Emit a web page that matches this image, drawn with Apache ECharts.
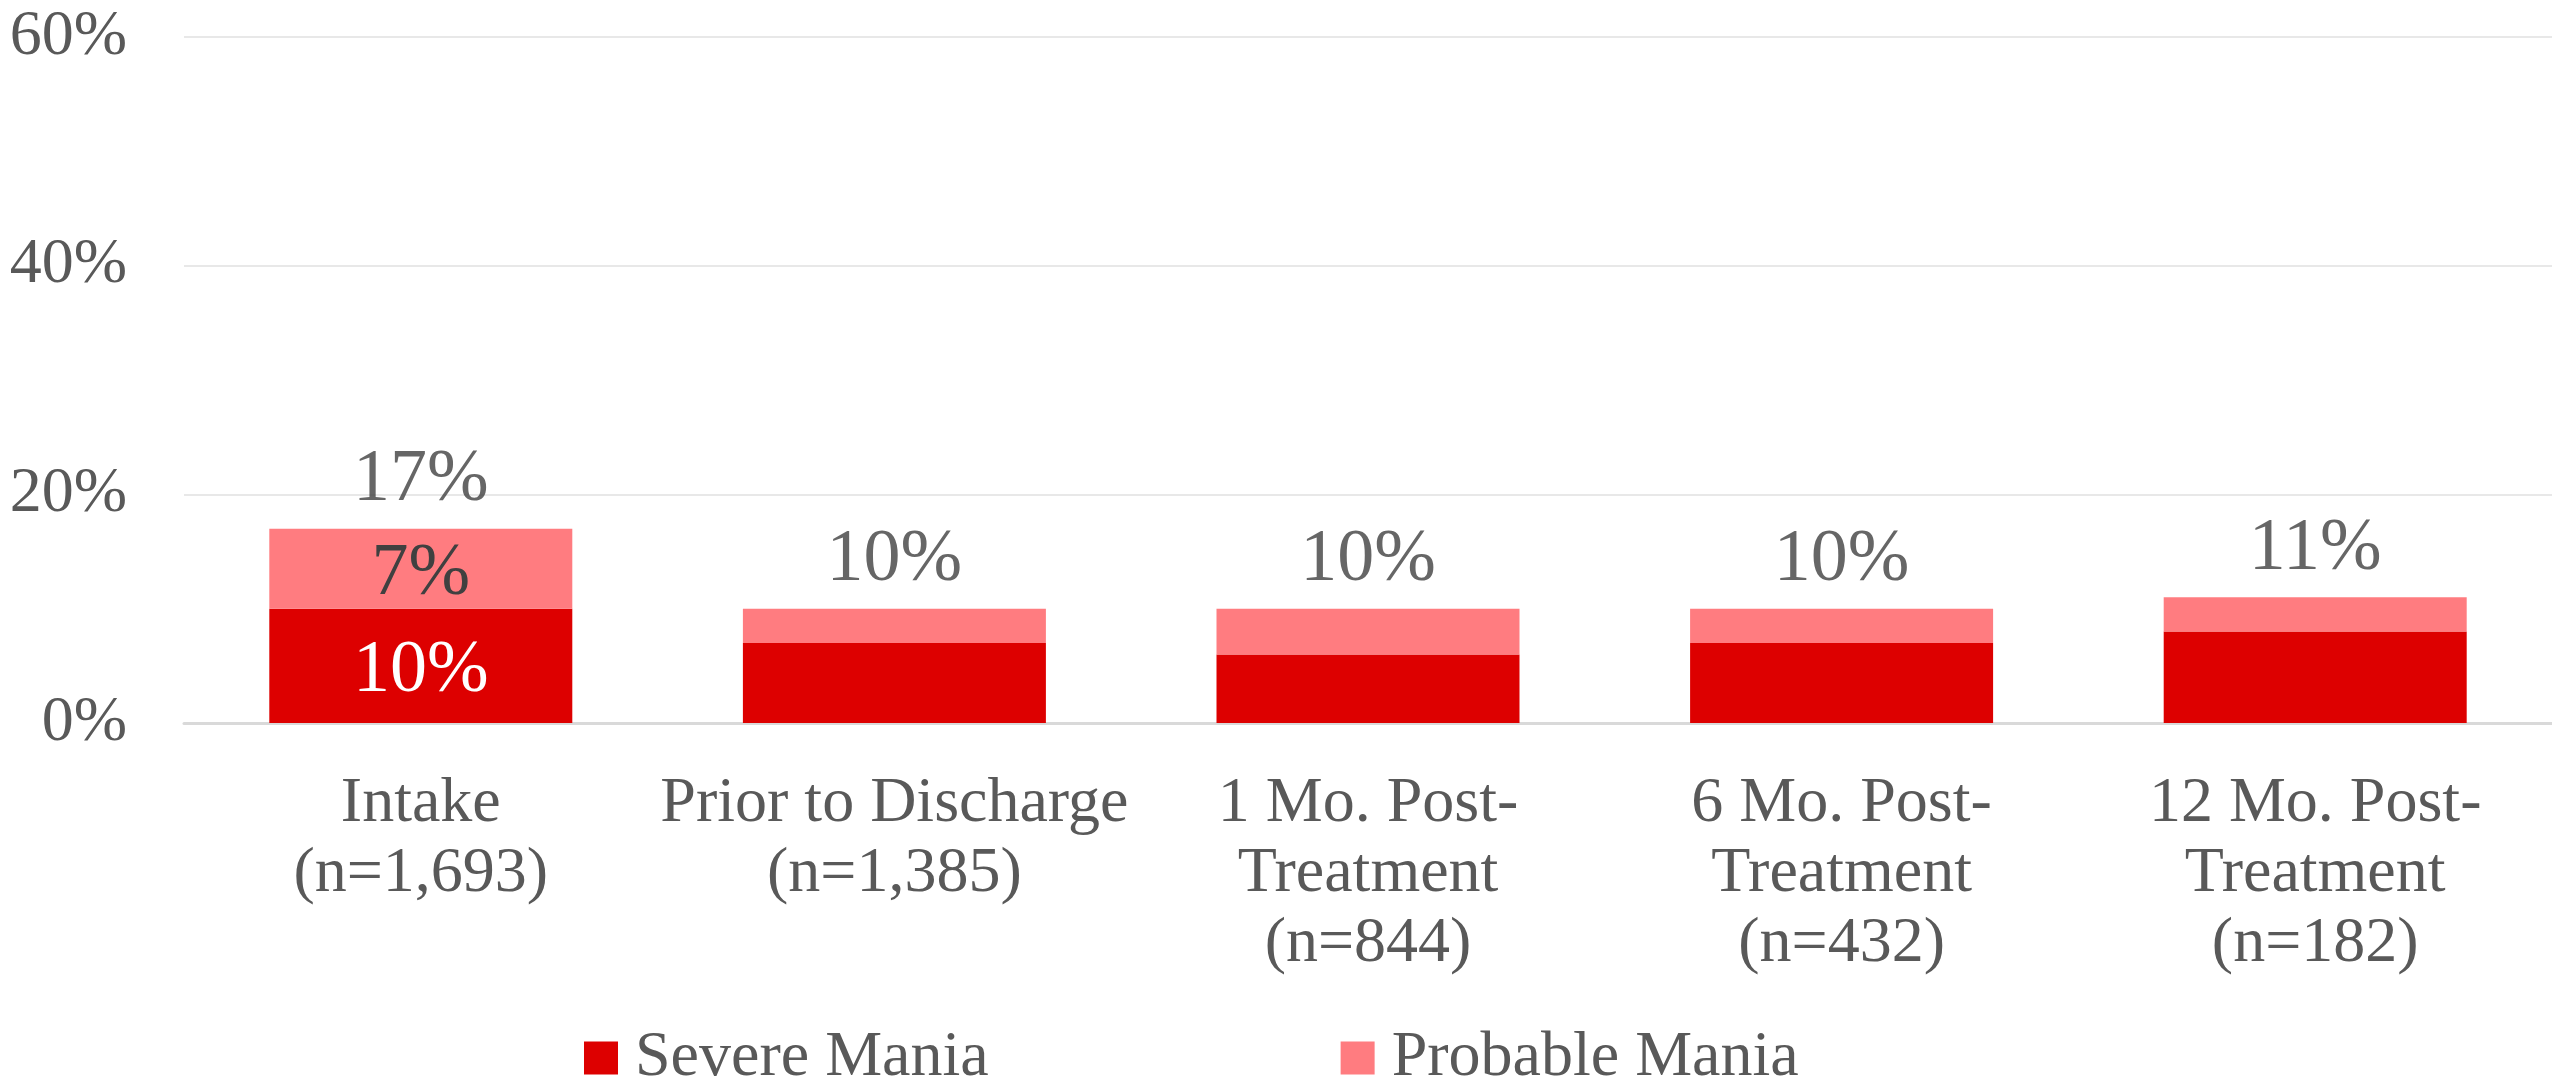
<!DOCTYPE html>
<html>
<head>
<meta charset="utf-8">
<script src="https://cdn.jsdelivr.net/npm/echarts@6/dist/echarts.min.js"></script>
<style>
  html, body { margin: 0; padding: 0; background: #fff; }
  #chart { width: 2552px; height: 1076px; }
</style>
</head>
<body>
<div id="chart"></div>
<script>
// values
var categories = [
    'Intake\n(n=1,693)',
    'Prior to Discharge\n(n=1,385)',
    '1 Mo. Post-\nTreatment\n(n=844)',
    '6 Mo. Post-\nTreatment\n(n=432)',
    '12 Mo. Post-\nTreatment\n(n=182)'
];
var severe = [10, 7, 6, 7, 8];
var probable = [7, 3, 4, 3, 3];
var totals = [17, 10, 10, 10, 11];
var yTicks = [0, 20, 40, 60];

var font = '"Liberation Serif", "DejaVu Serif", serif';

var chart = echarts.init(document.getElementById('chart'));

chart.setOption({
    animation: false,
    backgroundColor: '#fff',
    grid: { left: 184, right: -8, top: 37, bottom: 353 },
    legend: {
        left: 579,
        top: 1021,
        itemWidth: 34,
        itemHeight: 33,
        itemGap: 352,
        icon: 'rect',
        data: ['Severe Mania', 'Probable Mania'],
        textStyle: { fontFamily: font, fontSize: 64, color: '#595959', lineHeight: 64, padding: [0, 0, 0, 12] }
    },
    xAxis: {
        type: 'category',
        data: categories,
        axisTick: { show: false },
        axisLine: { lineStyle: { color: '#d9d9d9', width: 3 } },
        axisLabel: {
            interval: 0,
            margin: 46,
            fontFamily: font,
            fontSize: 64,
            lineHeight: 70,
            color: '#595959'
        }
    },
    yAxis: {
        type: 'value',
        min: yTicks[0],
        max: yTicks[yTicks.length - 1],
        interval: 20,
        axisLine: { show: false },
        axisTick: { show: false },
        splitLine: { lineStyle: { color: '#e8e8e8', width: 2 } },
        axisLabel: {
            margin: 57,
            fontFamily: font,
            fontSize: 64,
            color: '#595959',
            formatter: '{value}%'
        }
    },
    series: [
        {
            name: 'Severe Mania',
            type: 'bar',
            stack: 'mania',
            barWidth: 303,
            itemStyle: { color: '#dd0000' },
            data: severe.map(function(v, i) {
                return i === 0 ? {
                    value: v,
                    label: {
                        show: true, position: 'inside', formatter: '{c}%',
                        offset: [0, 6],
                        fontFamily: font, fontSize: 74, color: '#ffffff'
                    }
                } : v;
            })
        },
        {
            name: 'Probable Mania',
            type: 'bar',
            stack: 'mania',
            barWidth: 303,
            itemStyle: { color: '#ff7c80' },
            data: probable.map(function(v, i) {
                return i === 0 ? {
                    value: v,
                    label: {
                        show: true, position: 'inside', formatter: '{c}%',
                        offset: [0, 6],
                        fontFamily: font, fontSize: 74, color: '#404040'
                    }
                } : v;
            })
        },
        {
            name: 'Total',
            type: 'scatter',
            symbolSize: 0,
            silent: true,
            data: totals,
            label: {
                show: true,
                position: 'top',
                distance: 12,
                formatter: '{c}%',
                fontFamily: font,
                fontSize: 74,
                lineHeight: 72,
                color: '#404040'
            }
        }
    ]
});
</script>
</body>
</html>
